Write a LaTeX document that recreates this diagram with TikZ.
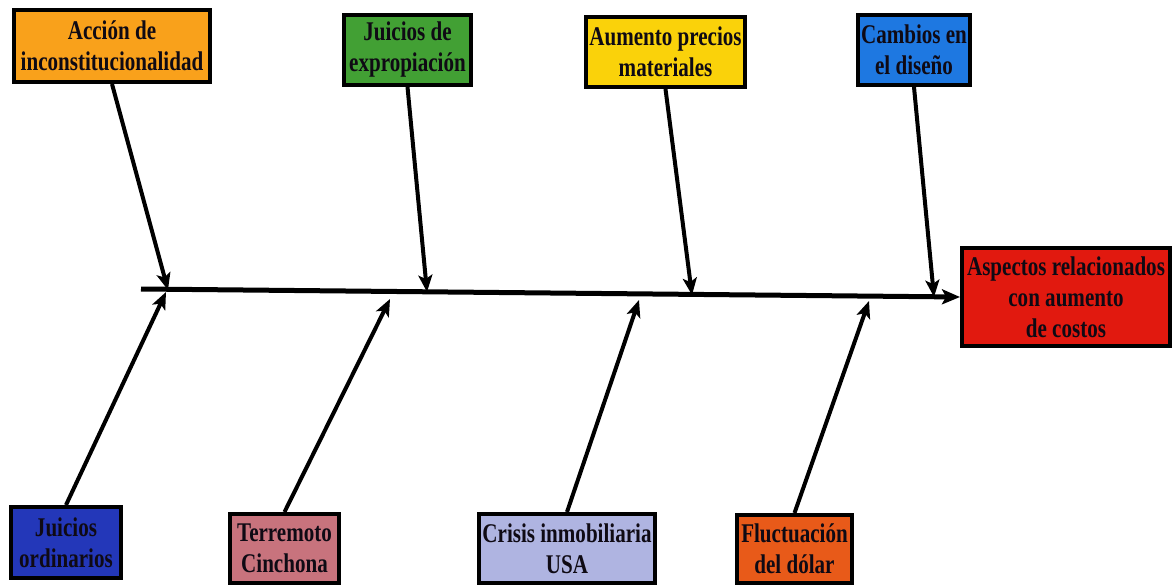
\documentclass[tikz,border=0pt]{standalone}
\usepackage{fontspec}
\newfontfamily\lbl{Liberation Serif}[FakeStretch=0.78]
\usetikzlibrary{arrows.meta}
\definecolor{cAcc}{RGB}{249,161,27}
\definecolor{cExp}{RGB}{66,160,52}
\definecolor{cAum}{RGB}{250,210,10}
\definecolor{cCam}{RGB}{30,120,225}
\definecolor{cAsp}{RGB}{225,25,15}
\definecolor{cJor}{RGB}{35,55,185}
\definecolor{cTer}{RGB}{200,115,125}
\definecolor{cCri}{RGB}{175,180,225}
\definecolor{cFlu}{RGB}{232,90,25}
\definecolor{cTxt}{RGB}{15,10,20}
\tikzset{
  cause/.style={draw=black, line width=4pt, rectangle, inner sep=0pt, align=center,
    text=cTxt, font=\lbl\bfseries\fontsize{27}{31}\selectfont},
  rib/.style={line width=4pt, -{Stealth[length=17pt,width=14pt,inset=4pt]}},
  spine/.style={line width=5pt, -{Stealth[length=18pt,width=15pt,inset=4pt]}}
}
\begin{document}
\begin{tikzpicture}[x=1pt,y=-1pt]
\useasboundingbox (0,0) rectangle (1176,586);
% top boxes
\node[cause, fill=cAcc, minimum width=196pt, minimum height=72pt] (acc) at (112,46) {Acción de\\inconstitucionalidad};
\node[cause, fill=cExp, minimum width=127pt, minimum height=70pt] (exp) at (407.5,50) {Juicios de\\expropiación};
\node[cause, fill=cAum, minimum width=159pt, minimum height=70pt] (aum) at (665.5,52) {Aumento precios\\materiales};
\node[cause, fill=cCam, minimum width=112pt, minimum height=70pt] (cam) at (914,50) {Cambios en\\el diseño};
% effect
\node[cause, fill=cAsp, minimum width=208pt, minimum height=98pt] (asp) at (1066,297) {Aspectos relacionados\\con aumento\\de costos};
% bottom boxes
\node[cause, fill=cJor, minimum width=110pt, minimum height=71pt] (jor) at (66,542.5) {Juicios\\ordinarios};
\node[cause, fill=cTer, minimum width=109pt, minimum height=69pt] (ter) at (284.5,548.5) {Terremoto\\Cinchona};
\node[cause, fill=cCri, minimum width=176pt, minimum height=69pt] (cri) at (567,548.5) {Crisis inmobiliaria\\USA};
\node[cause, fill=cFlu, minimum width=115pt, minimum height=68pt] (flu) at (794.5,549) {Fluctuación\\del dólar};
% spine
\coordinate (s0) at (141,289);
\draw[spine] (s0) -- (asp.west);
% tip coordinates
\coordinate (t1) at (168,290);
\coordinate (t2) at (427,292);
\coordinate (t3) at (692,295);
\coordinate (t4) at (934,297);
\coordinate (b1) at (166,292);
\coordinate (b2) at (390,299);
\coordinate (b3) at (639,300);
\coordinate (b4) at (869,301);
% ribs
\draw[rib] (acc.south) -- (t1);
\draw[rib] (exp.south) -- (t2);
\draw[rib] (aum.south) -- (t3);
\draw[rib] (cam.south) -- (t4);
\draw[rib] (jor.north) -- (b1);
\draw[rib] (ter.north) -- (b2);
\draw[rib] (cri.north) -- (b3);
\draw[rib] (flu.north) -- (b4);
\end{tikzpicture}
\end{document}
